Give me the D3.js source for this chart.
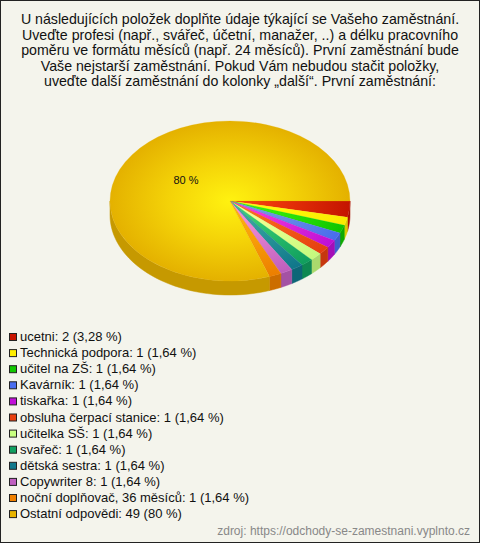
<!DOCTYPE html>
<html><head><meta charset="utf-8">
<script src="https://cdn.jsdelivr.net/npm/d3@7/dist/d3.min.js"></script>
<style>html,body{margin:0;padding:0;background:#f4f4ec;}svg{display:block;}</style>
</head><body><svg id="c" width="480" height="543"></svg>
<script>
const titleLines = [
  "U následujících položek doplňte údaje týkající se Vašeho zaměstnání.",
  "Uveďte profesi (např., svářeč, účetní, manažer, ..) a délku pracovního",
  "poměru ve formátu měsíců (např. 24 měsíců). První zaměstnání bude",
  "Vaše nejstarší zaměstnání. Pokud Vám nebudou stačit položky,",
  "uveďte další zaměstnání do kolonky „další“. První zaměstnání:"
];
const categories = ["ucetni","Technická podpora","učitel na ZŠ","Kavárník","tiskařka","obsluha čerpací stanice","učitelka SŠ","svařeč","dětská sestra","Copywriter 8","noční doplňovač, 36 měsíců","Ostatní odpovědi"];
const values = [2,1,1,1,1,1,1,1,1,1,1,49];
const percents = ["3,28 %","1,64 %","1,64 %","1,64 %","1,64 %","1,64 %","1,64 %","1,64 %","1,64 %","1,64 %","1,64 %","80 %"];
const colors = ["#c81400","#ffee00","#11c800","#4a6ef0","#c010d8","#e84010","#c8ff80","#10a060","#10788c","#c060c0","#f08000","#e8b400"];
const sourceText = "zdroj: https://odchody-se-zamestnani.vyplnto.cz";

const svg = d3.select("#c");
const W = 480, H = 543;
svg.append("rect").attr("x",0.5).attr("y",0.5).attr("width",W-1).attr("height",H-1)
  .attr("fill","#f4f4ec").attr("stroke","#222");

const font = "'Liberation Sans', Arial, sans-serif";
svg.append("g").selectAll("text").data(titleLines).join("text")
  .attr("x",240).attr("y",(d,i)=>24+i*15.5).attr("text-anchor","middle")
  .attr("font-family",font).attr("font-size",14.2).attr("fill","#111").text(d=>d);

const cx = 230, cy = 201, rx = 120, ry = 80, depth = 14;
const pieData = d3.pie().sort(null).startAngle(Math.PI/2).endAngle(Math.PI/2 + 2*Math.PI)(values);
const defs = svg.append("defs");
colors.forEach((c,i)=>{
  const g = defs.append("radialGradient").attr("id","g"+i).attr("gradientUnits","userSpaceOnUse")
    .attr("cx",0).attr("cy",0).attr("r",rx);
  const bright = d3.interpolateRgb(d3.color(c).brighter(0.8).toString(), "#ffff50")(0.2);
  g.append("stop").attr("offset",0).attr("stop-color",bright);
  g.append("stop").attr("offset",0.5).attr("stop-color",d3.interpolateRgb(bright, c)(0.5));
  g.append("stop").attr("offset",1).attr("stop-color",d3.color(c).darker(0.05));
});

// side walls (front half)
const sideG = svg.append("g").attr("transform",`translate(${cx},${cy})`);
function pt(a, dy){ return [rx*Math.sin(a), -ry*Math.cos(a) + dy]; }
pieData.forEach((d,i)=>{
  const a0 = Math.max(d.startAngle, Math.PI/2), a1 = Math.min(d.endAngle, 1.5*Math.PI);
  if (a1 <= a0) return;
  const n = 40, upper = [], lower = [];
  for (let k=0;k<=n;k++){ const a = a0 + (a1-a0)*k/n; upper.push(pt(a,0)); lower.push(pt(a,depth)); }
  const poly = upper.concat(lower.reverse());
  const sc = d3.color(colors[i]).darker(0.45);
  sideG.append("path").attr("d", d3.line()(poly) + "Z")
    .attr("fill", sc).attr("stroke", sc).attr("stroke-width",0.5);
});

// top face
const topG = svg.append("g").attr("transform",`translate(${cx},${cy}) scale(1,${ry/rx})`);
const arc = d3.arc().innerRadius(0).outerRadius(rx);
topG.selectAll("path").data(pieData).join("path").attr("d",arc)
  .attr("fill",(d,i)=>`url(#g${i})`).attr("stroke",(d,i)=>colors[i]).attr("stroke-width",0.3);

// label on the largest slice
const big = pieData[pieData.length-1];
const mid = (big.startAngle+big.endAngle)/2;
const lp = pt(mid,0);
svg.append("text").attr("x",cx+lp[0]*0.45).attr("y",cy+lp[1]*0.45+4)
  .attr("text-anchor","middle").attr("font-family",font).attr("font-size",11).attr("fill","#111")
  .text(percents[percents.length-1]);

// legend
const leg = svg.append("g").selectAll("g").data(categories).join("g")
  .attr("transform",(d,i)=>`translate(0,${341+i*16.1})`);
leg.append("rect").attr("x",9.5).attr("y",-7.5).attr("width",7).attr("height",7)
  .attr("fill",(d,i)=>colors[i]).attr("stroke","#222").attr("stroke-width",1);
leg.append("text").attr("x",20).attr("y",0).attr("font-family",font).attr("font-size",13).attr("fill","#111")
  .text((d,i)=>`${d}: ${values[i]} (${percents[i]})`);

svg.append("text").attr("x",470).attr("y",535).attr("text-anchor","end").attr("font-family",font)
  .attr("font-size",12).attr("fill","#888").text(sourceText);
</script></body></html>
